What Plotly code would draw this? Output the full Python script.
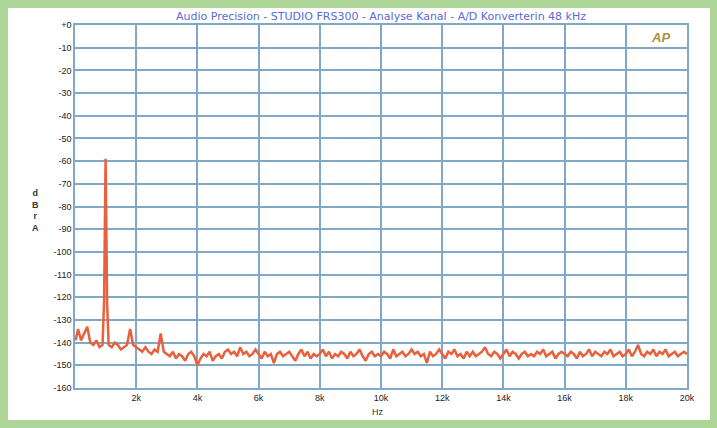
import plotly.graph_objects as go

# ---- data ----
freq_hz = [
    20, 100, 200, 300, 400, 500, 600, 700, 800, 900, 950, 1000, 1050, 1100,
    1200, 1300, 1400, 1500, 1600, 1700, 1800, 1900,
    2000, 2100, 2200, 2300, 2400, 2500, 2600, 2700, 2800, 2900,
    3000, 3100, 3200, 3300, 3400, 3500, 3600, 3700, 3800, 3900,
    4000, 4100, 4200, 4300, 4400, 4500, 4600, 4700, 4800, 4900,
    5000, 5100, 5200, 5300, 5400, 5500, 5600, 5700, 5800, 5900,
    6000, 6100, 6200, 6300, 6400, 6500, 6600, 6700, 6800, 6900,
    7000, 7100, 7200, 7300, 7400, 7500, 7600, 7700, 7800, 7900,
    8000, 8100, 8200, 8300, 8400, 8500, 8600, 8700, 8800, 8900,
    9000, 9100, 9200, 9300, 9400, 9500, 9600, 9700, 9800, 9900,
    10000, 10100, 10200, 10300, 10400, 10500, 10600, 10700, 10800, 10900,
    11000, 11100, 11200, 11300, 11400, 11500, 11600, 11700, 11800, 11900,
    12000, 12100, 12200, 12300, 12400, 12500, 12600, 12700, 12800, 12900,
    13000, 13100, 13200, 13300, 13400, 13500, 13600, 13700, 13800, 13900,
    14000, 14100, 14200, 14300, 14400, 14500, 14600, 14700, 14800, 14900,
    15000, 15100, 15200, 15300, 15400, 15500, 15600, 15700, 15800, 15900,
    16000, 16100, 16200, 16300, 16400, 16500, 16600, 16700, 16800, 16900,
    17000, 17100, 17200, 17300, 17400, 17500, 17600, 17700, 17800, 17900,
    18000, 18100, 18200, 18300, 18400, 18500, 18600, 18700, 18800, 18900,
    19000, 19100, 19200, 19300, 19400, 19500, 19600, 19700, 19800, 19900,
    20000,
]
level_dbra = [
    -139, -134, -139, -136, -133, -140, -141, -139, -142, -141, -122, -59, -123, -141,
    -142, -140, -141, -143, -142, -141, -134, -141,
    -142, -143, -144, -142, -144, -145, -143, -144, -136, -144,
    -145, -146, -144, -147, -145, -146, -148, -145, -144, -146,
    -150, -147, -145, -146, -144, -148, -146, -145, -147, -144,
    -143, -145, -144, -146, -142, -145, -144, -146, -145, -143,
    -145, -147, -144, -146, -145, -149, -145, -144, -146, -145,
    -144, -146, -148, -145, -143, -146, -144, -147, -145, -146,
    -145, -143, -146, -144, -147, -145, -146, -144, -145, -147,
    -144, -146, -145, -143, -146, -148, -145, -144, -146, -145,
    -146, -144, -145, -147, -143, -146, -145, -144, -146, -145,
    -143, -145, -144, -146, -145, -149, -144, -146, -145, -143,
    -145, -147, -144, -145, -143, -146, -145, -147, -144, -146,
    -144, -146, -145, -144, -142, -145, -146, -144, -145, -147,
    -145, -143, -146, -144, -145, -147, -145, -144, -146, -145,
    -146, -144, -145, -143, -146, -145, -144, -147, -145, -144,
    -145, -146, -144, -145, -147, -144, -146, -145, -143, -146,
    -144, -145, -146, -144, -145, -143, -146, -145, -144, -146,
    -145, -143, -146, -144, -141, -145, -146, -144, -145, -143,
    -146, -144, -145, -143, -146, -145, -144, -146, -145, -144,
    -145,
]

y_tick_vals = [0, -10, -20, -30, -40, -50, -60, -70, -80, -90, -100,
               -110, -120, -130, -140, -150, -160]
y_tick_text = ["+0", "-10", "-20", "-30", "-40", "-50", "-60", "-70", "-80",
               "-90", "-100", "-110", "-120", "-130", "-140", "-150", "-160"]
x_tick_vals = [2000, 4000, 6000, 8000, 10000, 12000, 14000, 16000, 18000, 20000]
x_tick_text = ["2k", "4k", "6k", "8k", "10k", "12k", "14k", "16k", "18k", "20k"]

title_text = "Audio Precision - STUDIO FRS300 - Analyse Kanal - A/D Konverterin 48 kHz"

GRID = "#80a9c7"

fig = go.Figure()
fig.add_trace(go.Scatter(
    x=freq_hz, y=level_dbra, mode="lines",
    line=dict(color="#e8603c", width=2.5),
    hoverinfo="skip", showlegend=False,
))

# white panel on green frame
fig.add_shape(type="rect", xref="paper", yref="paper",
              x0=-0.1095, x1=1.0376, y0=-0.088, y1=1.0468,
              fillcolor="white", line=dict(width=0), layer="below")

fig.update_layout(
    width=717, height=428,
    margin=dict(l=75, r=30, t=25, b=40),
    paper_bgcolor="#acd597",
    plot_bgcolor="white",
    font=dict(family="Liberation Sans, Arial, sans-serif", size=9, color="#333333"),
    xaxis=dict(
        range=[0, 20000], tickvals=x_tick_vals, ticktext=x_tick_text,
        showgrid=True, gridcolor=GRID, gridwidth=1.5,
        showline=True, linecolor=GRID, linewidth=1.5, mirror=True,
        zeroline=False, ticks="", tickfont=dict(size=9, color="#222222"),
    ),
    yaxis=dict(
        range=[-160, 0], tickvals=y_tick_vals, ticktext=y_tick_text,
        showgrid=True, gridcolor=GRID, gridwidth=1.5,
        showline=True, linecolor=GRID, linewidth=1.5, mirror=True,
        zeroline=False, ticks="", tickfont=dict(size=9, color="#222222"),
    ),
    annotations=[
        dict(text=title_text, x=0.5, y=1.0, xref="paper", yref="paper",
             xanchor="center", yanchor="bottom", showarrow=False,
             font=dict(family="DejaVu Sans, sans-serif", size=11, color="#5a6ad8")),
        dict(text="<b><i>AP</i></b>", x=0.975, y=0.965, xref="paper", yref="paper",
             xanchor="right", yanchor="middle", showarrow=False,
             font=dict(size=13, color="#a89040")),
        dict(text="<b>d<br>B<br>r<br>A</b>", x=-0.064, y=0.49, xref="paper", yref="paper",
             xanchor="center", yanchor="middle", showarrow=False,
             font=dict(size=9, color="#333333")),
        dict(text="Hz", x=0.495, y=-0.066, xref="paper", yref="paper",
             xanchor="center", yanchor="middle", showarrow=False,
             font=dict(size=9, color="#333333")),
    ],
)

fig.write_html("out.html", config={"displayModeBar": False},
               post_script="document.body.style.margin='0px';")
